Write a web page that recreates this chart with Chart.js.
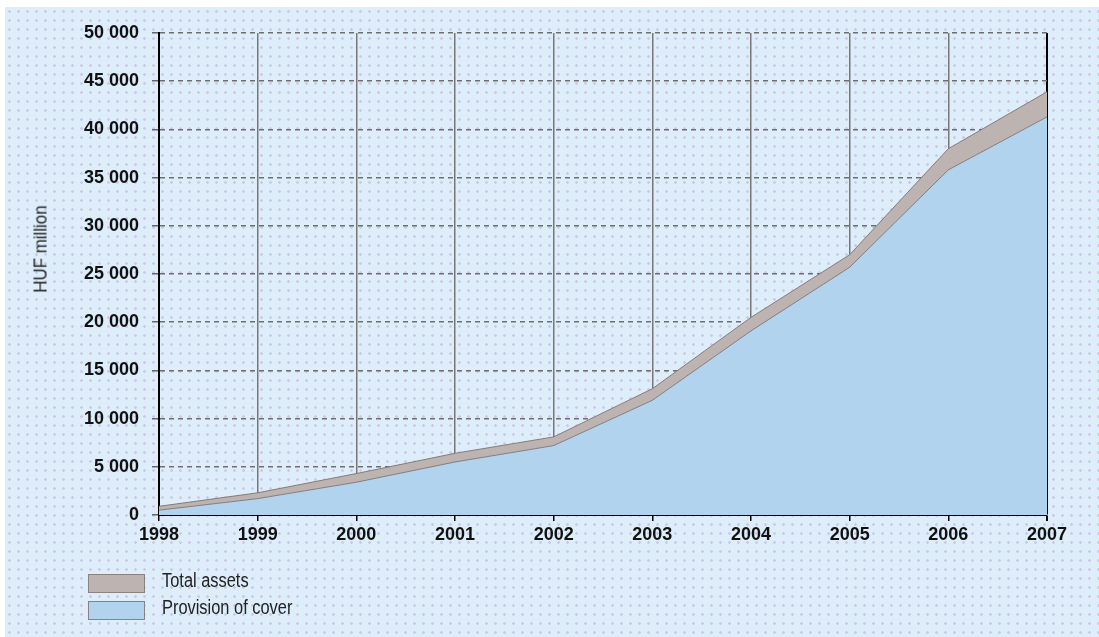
<!DOCTYPE html>
<html>
<head>
<meta charset="utf-8">
<script src="https://cdn.jsdelivr.net/npm/chart.js@4.4.1/dist/chart.umd.min.js"></script>
<style>
    html, body {
        margin: 0;
        padding: 0;
        background: #ffffff;
    }
    #wrap {
        position: absolute;
        left: 5px;
        top: 7px;
        width: 1094px;
        height: 630px;
        background-color: #ddeefa;
        background-image: radial-gradient(circle, rgba(195, 175, 220, .6) 1px, transparent 1.6px);
        background-size: 9px 9px;
    }
    #chartBox {
        position: absolute;
        left: -5px;
        top: -7px;
        width: 1099px;
        height: 637px;
    }
    .legend {
        position: absolute;
        left: 83px;
        font-family: 'Liberation Sans', Arial, sans-serif;
        font-size: 20px;
        color: #222;
        white-space: nowrap;
    }
    .legend .box {
        position: absolute;
        left: 0;
        width: 55px;
        height: 17px;
        border: 1px solid #8a8280;
    }
    .legend .txt {
        position: absolute;
        left: 74px;
        transform: scaleX(.82);
        transform-origin: left center;
    }
    #yTitle {
        position: absolute;
        left: 36px;
        top: 242px;
        width: 0;
        height: 0;
        font-family: 'Liberation Sans', Arial, sans-serif;
        font-size: 18px;
        color: #222;
        white-space: nowrap;
    }
    #yTitle span {
        position: absolute;
        left: 0;
        top: 0;
        transform: translate(-50%, -50%) rotate(-90deg) scaleX(.94);
    }
</style>
</head>
<body>
<div id="wrap">
    <div id="chartBox"><canvas id="chartCover" width="1099" height="637"></canvas></div>
    <div id="yTitle"><span>HUF million</span></div>
    <div class="legend" style="top: 567px;">
        <div class="box" style="background: #bdb3b1;"></div>
        <div class="txt" style="top: -5px;">Total assets</div>
    </div>
    <div class="legend" style="top: 594px;">
        <div class="box" style="background: #b2d3ed;"></div>
        <div class="txt" style="top: -5px;">Provision of cover</div>
    </div>
</div>
<script>
const years = ['1998', '1999', '2000', '2001', '2002', '2003', '2004', '2005', '2006', '2007'];
const totalAssets = [900, 2300, 4300, 6400, 8100, 13100, 20500, 27000, 38000, 43900];
const provisionOfCover = [500, 1700, 3400, 5500, 7200, 11900, 19100, 25700, 35800, 41300];
const yTicks = [0, 5000, 10000, 15000, 20000, 25000, 30000, 35000, 40000, 45000, 50000];

renderChart();

function formatNumber(v) {
    return v.toString().replace(/\B(?=(\d{3})+(?!\d))/g, ' ');
}

function renderChart() {
    const tickFont = {
        family: "'Liberation Sans', Arial, sans-serif",
        size: 18,
        weight: 'bold'
    };
    const data = {
        labels: years,
        datasets: [
            {
                label: 'Provision of cover',
                data: provisionOfCover,
                borderColor: '#857c7a',
                borderWidth: 1,
                backgroundColor: '#b2d3ed',
                fill: 'origin',
                pointRadius: 0,
                tension: 0
            },
            {
                label: 'Total assets',
                data: totalAssets,
                borderColor: '#857c7a',
                borderWidth: 1,
                backgroundColor: '#bdb3b1',
                fill: '-1',
                pointRadius: 0,
                tension: 0
            }
        ]
    };
    const config = {
        type: 'line',
        data: data,
        options: {
            responsive: false,
            animation: false,
            layout: {
                padding: { left: 0, right: 52, top: 33, bottom: 0 }
            },
            plugins: {
                legend: { display: false },
                tooltip: { enabled: false }
            },
            scales: {
                x: {
                    z: 1,
                    offset: false,
                    afterFit: function (s) { s.height = 122; },
                    border: { display: true, color: '#000', width: 2 },
                    grid: {
                        color: function (c) { return c.index === years.length - 1 ? '#000' : '#7a7575'; },
                        lineWidth: function (c) { return c.index === years.length - 1 ? 2 : 1.5; },
                        tickLength: 6,
                        tickColor: '#000'
                    },
                    ticks: {
                        color: '#111',
                        font: tickFont,
                        padding: 3,
                        maxRotation: 0,
                        autoSkip: false
                    }
                },
                y: {
                    z: 1,
                    min: 0,
                    max: 50000,
                    afterFit: function (s) { s.width = 159; },
                    afterBuildTicks: function (s) {
                        s.ticks = yTicks.map(function (v) { return { value: v }; });
                    },
                    // in v4 the dash of the grid lines comes from border.dash
                    border: { display: true, color: '#000', width: 2, dash: [5, 4] },
                    grid: {
                        color: '#6e6e6e',
                        lineWidth: 1.5,
                        tickLength: 7,
                        tickColor: '#666',
                        tickBorderDash: [],
                        drawTicks: true
                    },
                    ticks: {
                        color: '#111',
                        font: tickFont,
                        padding: 13,
                        callback: function (v) { return formatNumber(v); }
                    }
                }
            }
        }
    };

    const myChart = new Chart(document.getElementById('chartCover'), config);
}
</script>
</body>
</html>
